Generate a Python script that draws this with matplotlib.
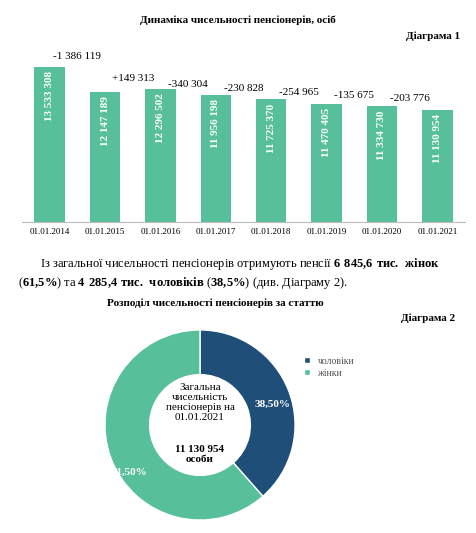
import numpy as np
import matplotlib.pyplot as plt

plt.rcParams['font.family'] = ['Liberation Serif', 'DejaVu Serif']
plt.rcParams['mathtext.fontset'] = 'custom'
plt.rcParams['mathtext.rm'] = 'Liberation Serif'
plt.rcParams['mathtext.bf'] = 'Liberation Serif:bold'

# ---- data ----
dates = ["01.01.2014", "01.01.2015", "01.01.2016", "01.01.2017",
         "01.01.2018", "01.01.2019", "01.01.2020", "01.01.2021"]
counts = [13533308, 12147189, 12296502, 11956198, 11725370, 11470405, 11334730, 11130954]
changes = ["-1 386 119", "+149 313", "-340 304", "-230 828",
           "-254 965", "-135 675", "-203 776"]
gender_labels = ["чоловіки", "жінки"]
gender_share = [38.5, 61.5]

GREEN = "#57C09A"
BLUE = "#1F4E79"
W, H = 476, 533

fig = plt.figure(figsize=(W / 100, H / 100), dpi=100)


def px(x0, y0, x1, y1):
    return [x0 / W, 1 - y1 / H, (x1 - x0) / W, (y1 - y0) / H]


# ---- Diagram 1 ----
fig.text(238 / W, 1 - 20 / H, "Динаміка чисельності пенсіонерів, осіб",
         ha="center", va="center", fontsize=8, fontweight="bold")
fig.text(460 / W, 1 - 36 / H, "Діаграма 1", ha="right", va="center",
         fontsize=8, fontweight="bold")

ax = fig.add_axes(px(22, 40, 465, 222))
x = np.arange(len(counts))
ax.bar(x, counts, width=0.55, color=GREEN)
ax.set_ylim(4.85e6, 13.533308e6 + 1.5e6)
ax.set_xlim(-0.5, len(counts) - 0.5)
for i, v in enumerate(counts):
    s = f"{v:,}".replace(",", " ")
    ax.text(i, v - 0.25e6, s, rotation=90, ha="center", va="top",
            color="white", fontsize=8, fontweight="bold")
for i, c in enumerate(changes):
    y = counts[0] + 0.3e6 if i == 0 else counts[i + 1] + 0.35e6
    ax.text(i + 0.5, y, c, ha="center", va="bottom", fontsize=8)
ax.set_xticks(x)
ax.set_xticklabels(dates, fontsize=6.5)
ax.tick_params(axis="x", length=0, pad=4)
ax.set_yticks([])
for sp in ["top", "right", "left"]:
    ax.spines[sp].set_visible(False)
ax.spines["bottom"].set_color("#bbbbbb")

# ---- paragraph ----
fig.text(40 / W, 1 - 264 / H,
         r"Із загальної чисельності пенсіонерів отримують пенсії $\mathbf{6\ 845{,}6\ тис.\ жінок}$",
         ha="left", va="center", fontsize=9)
fig.text(18 / W, 1 - 283 / H,
         r"($\mathbf{61{,}5\%}$) та $\mathbf{4\ 285{,}4\ тис.\ чоловіків}$ ($\mathbf{38{,}5\%}$) (див. Діаграму 2).",
         ha="left", va="center", fontsize=9)

# ---- Diagram 2 ----
fig.text(215 / W, 1 - 303 / H, "Розподіл чисельності пенсіонерів за статтю",
         ha="center", va="center", fontsize=8, fontweight="bold")
fig.text(455 / W, 1 - 318 / H, "Діаграма 2", ha="right", va="center",
         fontsize=8, fontweight="bold")

ax2 = fig.add_axes(px(104, 329, 296, 521))
wedges, _ = ax2.pie(gender_share, colors=[BLUE, GREEN], startangle=90,
                    counterclock=False, radius=1.0,
                    wedgeprops=dict(width=0.47, edgecolor="white", linewidth=1))
ax2.set_xlim(-1.01, 1.01)
ax2.set_ylim(-1.01, 1.01)
ax2.set_aspect("equal")
ax2.text(0.76, 0.22, "38,50%", color="white", fontsize=8, fontweight="bold",
         ha="center", va="center")
ax2.text(-0.74, -0.5, "61,50%", color="white", fontsize=8, fontweight="bold",
         ha="center", va="center")
ax2.text(0, 0.24, "Загальна\nчисельність\nпенсіонерів на\n01.01.2021",
         ha="center", va="center", fontsize=8, linespacing=1.15)
ax2.text(0, -0.31, "11 130 954\nособи", ha="center", va="center",
         fontsize=8, fontweight="bold", linespacing=1.15)

fig.legend(wedges, gender_labels, loc="upper left",
           bbox_to_anchor=(295 / W, 1 - 348 / H), frameon=False,
           fontsize=7, handlelength=0.6, handleheight=0.6, labelspacing=0.3,
           labelcolor="#555555")

fig.savefig("out.png", dpi=100)
